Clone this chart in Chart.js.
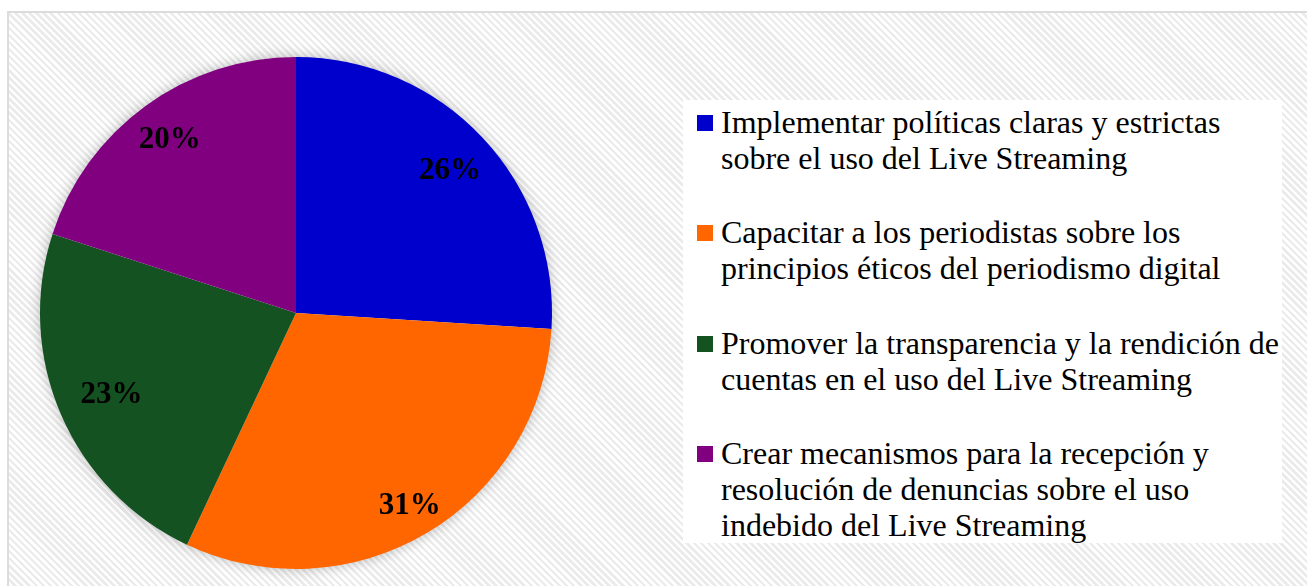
<!DOCTYPE html>
<html>
<head>
<meta charset="utf-8">
<script src="https://cdn.jsdelivr.net/npm/chart.js@4.4.1/dist/chart.umd.min.js"></script>
<style>
  html, body { margin: 0; padding: 0; background: #fff; }
  body { width: 1307px; height: 586px; position: relative; overflow: hidden; }
  #frame {
    position: absolute; left: 7px; top: 11px; width: 1320px; height: 600px;
    border: 2px solid #dcdcdc;
    background: repeating-linear-gradient(45deg, #ffffff 0px, #ffffff 2.5px, #ebebeb 2.5px, #ebebeb 5px);
  }
  #wrap { position: absolute; left: 0; top: 0; width: 1307px; height: 586px; }
  #legend {
    position: absolute; left: 683px; top: 100px; width: 599px; height: 443px;
    background: #fff;
    font-family: "Liberation Serif", "Times New Roman", serif; font-size: 32px; line-height: 36px; color: #000;
  }
  .item { position: absolute; left: 38px; white-space: nowrap; }
  .mark { position: absolute; left: -24px; top: 11px; width: 16px; height: 16px; }
</style>
</head>
<body>
<div id="frame"></div>
<div id="wrap"><canvas id="c" width="1307" height="586"></canvas></div>
<div id="legend"></div>
<script>
const categories = [
  ["Implementar políticas claras y estrictas", "sobre el uso del Live Streaming"],
  ["Capacitar a los periodistas sobre los", "principios éticos del periodismo digital"],
  ["Promover la transparencia y la rendición de", "cuentas en el uso del Live Streaming"],
  ["Crear mecanismos para la recepción y", "resolución de denuncias sobre el uso", "indebido del Live Streaming"]
];
const values = [26, 31, 23, 20];
const valueLabels = ["26%", "31%", "23%", "20%"];
const colors = ["#0000CC", "#FF6600", "#155221", "#800080"];

// HTML legend built from the data arrays
const legendEl = document.getElementById('legend');
const itemTops = [4, 114, 225, 335];
categories.forEach((lines, i) => {
  const d = document.createElement('div');
  d.className = 'item';
  d.style.top = itemTops[i] + 'px';
  const m = document.createElement('span');
  m.className = 'mark';
  m.style.background = colors[i];
  d.appendChild(m);
  lines.forEach((ln, j) => {
    if (j) d.appendChild(document.createElement('br'));
    d.appendChild(document.createTextNode(ln));
  });
  legendEl.appendChild(d);
});

const shadowPlugin = {
  id: 'pieShadow',
  beforeDatasetsDraw(chart) {
    const arc = chart.getDatasetMeta(0).data[0];
    if (!arc) return;
    const ctx = chart.ctx;
    ctx.save();
    ctx.shadowColor = 'rgba(0,0,0,0.3)';
    ctx.shadowBlur = 14;
    ctx.fillStyle = '#ffffff';
    ctx.beginPath();
    ctx.arc(arc.x, arc.y, arc.outerRadius - 1, 0, Math.PI * 2);
    ctx.fill();
    ctx.restore();
  }
};

const labelFractions = [0.82, 0.865, 0.79, 0.845];
const labelPlugin = {
  id: 'sliceLabels',
  afterDatasetsDraw(chart) {
    const ctx = chart.ctx;
    const meta = chart.getDatasetMeta(0);
    ctx.save();
    ctx.font = 'bold 31px "Liberation Serif", "Times New Roman", serif';
    ctx.fillStyle = '#000';
    ctx.textAlign = 'center';
    ctx.textBaseline = 'middle';
    meta.data.forEach((a, i) => {
      const mid = (a.startAngle + a.endAngle) / 2;
      const r = a.outerRadius * labelFractions[i];
      ctx.fillText(valueLabels[i], a.x + Math.cos(mid) * r + 1, a.y + Math.sin(mid) * r + 2);
    });
    ctx.restore();
  }
};

new Chart(document.getElementById('c'), {
  type: 'pie',
  data: {
    labels: categories,
    datasets: [{
      data: values,
      backgroundColor: colors,
      borderWidth: 0,
      hoverOffset: 0
    }]
  },
  options: {
    responsive: false,
    animation: false,
    events: [],
    rotation: 0,
    layout: { padding: { left: 40, top: 57, right: 755, bottom: 17 } },
    plugins: {
      legend: { display: false },
      tooltip: { enabled: false },
      title: { display: false }
    }
  },
  plugins: [shadowPlugin, labelPlugin]
});
</script>
</body>
</html>
